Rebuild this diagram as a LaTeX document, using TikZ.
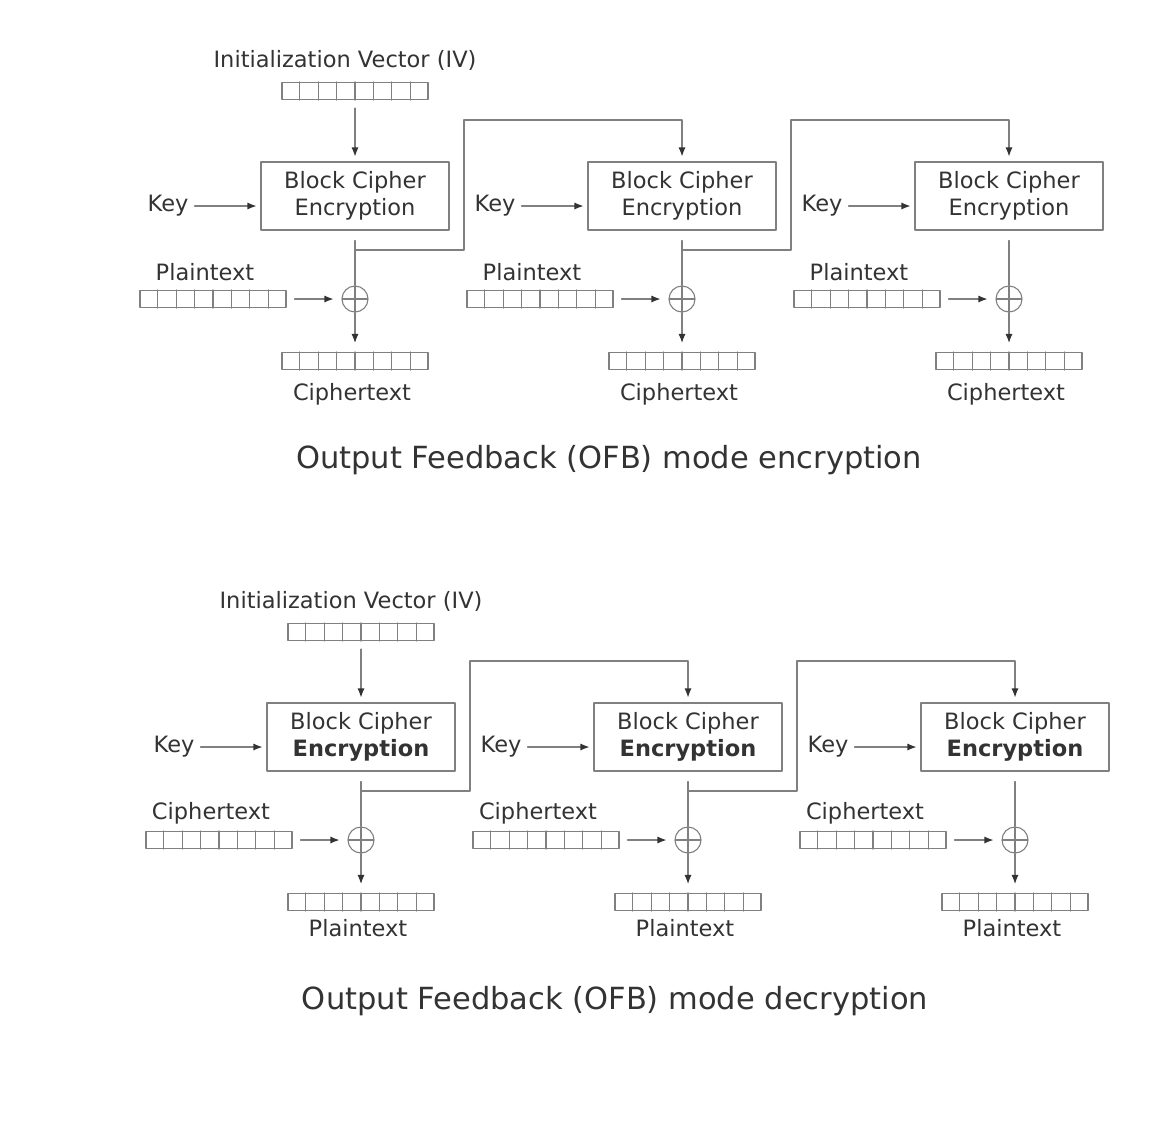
\documentclass[tikz,border=0pt]{standalone}
\usepackage{fontspec}
\setmainfont{DejaVu Sans}
\usetikzlibrary{calc,arrows.meta,positioning}

\definecolor{wire}{gray}{0.5}
\definecolor{ink}{gray}{0.2}

\tikzset{
  cipherbox/.style={draw=wire,line width=1.1pt,minimum width=188pt,minimum height=68pt,inner sep=0pt,
    align=center,text=ink,font=\fontsize{22.5}{27}\selectfont},
  lbl/.style={text=ink,inner sep=2pt,font=\fontsize{22.5}{26}\selectfont},
  register/.style={draw=wire,line width=1.1pt,minimum width=146pt,minimum height=17pt,inner sep=0pt},
  xorgate/.style={draw=wire,line width=1.1pt,circle,minimum size=26pt,inner sep=0pt,
    path picture={\draw[wire,line width=1.1pt] (path picture bounding box.west)--(path picture bounding box.east)
      (path picture bounding box.north)--(path picture bounding box.south);}},
  wireline/.style={draw=wire,line width=1.1pt},
  flow/.style={wireline,-{Latex[length=9pt,width=7pt,color=ink]}},
}

\begin{document}
\begin{tikzpicture}[x=1pt,y=-1pt,line join=round,line cap=round]
\useasboundingbox[fill=white] (0,0) rectangle (1170,1128);
\foreach \s/\dx/\dy/\inp/\outp/\enc/\ttl/\oy in {0/0/0/Plaintext/Ciphertext/Encryption/encryption/394,
    1/6/541/Ciphertext/Plaintext/\textbf{Encryption}/decryption/387}{
  \begin{scope}[shift={(\dx,\dy)}]
    \node[lbl] (ivlbl\s) at (345,60) {Initialization Vector (IV)};
    \node[register] (iv\s) at (355,91) {};
    \node[lbl,font=\fontsize{30.5}{36}\selectfont] (title\s) at (609,460) {Output Feedback (OFB) mode \ttl};
    \foreach \i [evaluate=\i as \a using 355+327*\i] in {0,1,2}{
      \node[cipherbox] (box\s\i) at (\a,196) {Block Cipher\\\enc};
      \node[lbl] (key\s\i) at (\a-187,206) {Key};
      \node[lbl] (inlbl\s\i) at (\a-150,272) {\inp};
      \node[register] (in\s\i) at (\a-142,299) {};
      \node[xorgate] (xor\s\i) at (\a,299) {};
      \node[register] (out\s\i) at (\a,361) {};
      \node[lbl] (outlbl\s\i) at (\a-3,\oy) {\outp};
      \coordinate (tap\s\i) at (\a,250);
      \draw[flow,shorten <=4pt,shorten >=4pt] (key\s\i) -- (key\s\i -| box\s\i.west);
      \draw[wireline] ($(box\s\i.south)+(0,10)$) -- (xor\s\i.north);
      \draw[flow,shorten <=8pt,shorten >=8pt] (in\s\i) -- (xor\s\i);
      \draw[flow,shorten >=9pt] (xor\s\i) -- (out\s\i);
    }
    \draw[flow,shorten <=8pt,shorten >=5pt] (iv\s.south) -- (box\s0.north);
    \foreach \i/\j in {0/1,1/2}
      \draw[flow,shorten >=5pt] (tap\s\i) -| (464+327*\i,120) -| (box\s\j.north);
    \foreach \r in {iv\s,in\s0,in\s1,in\s2,out\s0,out\s1,out\s2}
      \foreach \k in {1,...,7}
        \draw[wire,line width=1.1pt] ($(\r.south west)!\k/8!(\r.south east)$) -- ($(\r.north west)!\k/8!(\r.north east)$);
  \end{scope}
}
\end{tikzpicture}
\end{document}
